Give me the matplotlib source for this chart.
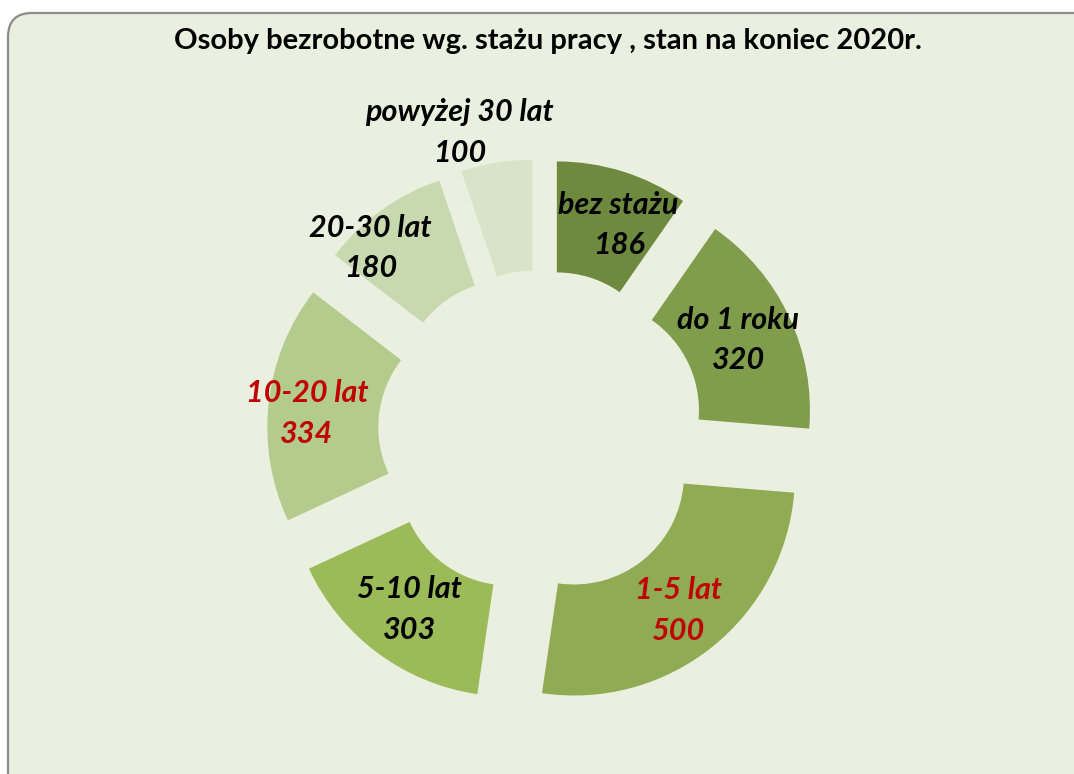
import matplotlib
matplotlib.use("Agg")
import matplotlib.pyplot as plt
from matplotlib.patches import FancyBboxPatch
import numpy as np

# data
categories = ["bez stażu", "do 1 roku", "1-5 lat", "5-10 lat",
              "10-20 lat", "20-30 lat", "powyżej 30 lat"]
values = [186, 320, 500, 303, 334, 180, 100]

# styling
slice_colors = ["#6E8A3E", "#7F9D4A", "#8FAC54", "#9BBB59",
                "#B3CB8D", "#C8D8AF", "#D8E3C7"]
label_colors = ["black", "black", "#C00000", "black",
                "#C00000", "black", "black"]
bg = "#EBEFDF"

# layout in pixels (figure is 1074 x 774 at dpi 100)
W, H = 1074, 774
cx, cy = 541, H - 433
R_OUT, RING, EXPLODE = 221, 111, 53
# distance of each label from its slice's own centre, plus an angle tweak (deg)
label_r = [169, 165, 171, 167, 182, 199, 259]
label_dang = [4, 0, 1, 0, -2, -9, -7]

plt.rcParams['font.family'] = ['Lato', 'DejaVu Sans']

fig = plt.figure(figsize=(W / 100, H / 100), dpi=100)
fig.patch.set_facecolor("white")
ax = fig.add_axes([0, 0, 1, 1])

frame = FancyBboxPatch((8, -40), W + 60, H - 13 + 40,
                       boxstyle="round,pad=0,rounding_size=24",
                       facecolor=bg, edgecolor="#8C8C8C", linewidth=1.6,
                       zorder=0)
ax.add_patch(frame)

ax.pie(values, explode=[EXPLODE] * len(values), colors=slice_colors,
       startangle=90, counterclock=False, radius=R_OUT, center=(cx, cy),
       wedgeprops=dict(width=RING, linewidth=0), frame=True)

# data labels
total = float(sum(values))
start = 0.0
for i, (cat, val) in enumerate(zip(categories, values)):
    span = 360.0 * val / total
    mid = np.radians(start + span / 2)          # clockwise from 12 o'clock
    sx = cx + EXPLODE * np.sin(mid)
    sy = cy + EXPLODE * np.cos(mid)
    a = mid + np.radians(label_dang[i])
    tx = sx + label_r[i] * np.sin(a)
    ty = sy + label_r[i] * np.cos(a)
    ax.text(tx, ty, f"{cat}\n{val}", ha="center", va="center",
            fontsize=22, fontweight="bold", fontstyle="italic",
            color=label_colors[i], linespacing=1.55, zorder=5)
    start += span

ax.text(548, H - 41, "Osoby bezrobotne wg. stażu pracy , stan na koniec 2020r.",
        ha="center", va="center", fontsize=21, fontweight="bold", color="black")

ax.set_xlim(0, W)
ax.set_ylim(0, H)
ax.set_aspect("equal")
ax.axis("off")

fig.savefig("out.png", dpi=100, facecolor=fig.get_facecolor())
